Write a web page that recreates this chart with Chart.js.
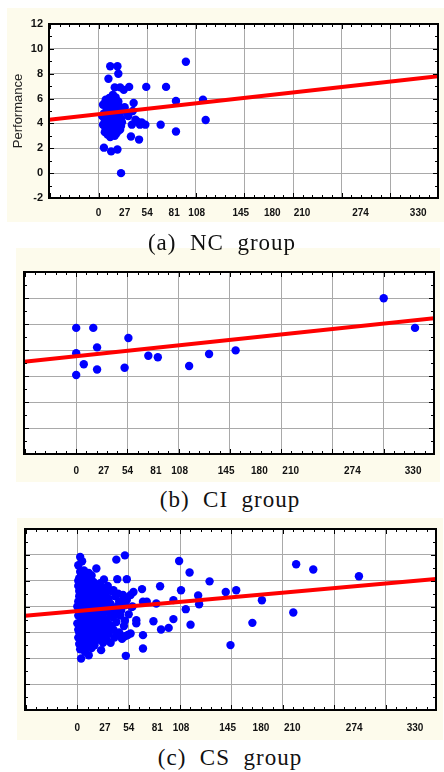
<!DOCTYPE html>
<html>
<head>
<meta charset="utf-8">
<script src="https://cdn.jsdelivr.net/npm/chart.js@4.4.1/dist/chart.umd.min.js"></script>
<style>
body { margin: 0; width: 444px; height: 772px; background: #fff; position: relative; overflow: hidden; }
.box { position: absolute; background: #fdfbec; }
.cap { position: absolute; left: 0; width: 444px; text-align: center; white-space: pre; z-index: 2; line-height: 22px;
       font-family: 'Liberation Serif', 'Times New Roman', serif; font-size: 23px; color: #111; letter-spacing: 1px; }
.mark { position: absolute; left: 262px; top: 0; font: bold 12px 'Liberation Sans', Arial, sans-serif; }
</style>
</head>
<body>
<div class="mark">_</div>
<div class="box" style="left:7px;top:8px;width:437px;height:214px"><canvas id="chartNC" width="437" height="214"></canvas></div>
<div class="cap" style="top:232px">(a)  NC  group</div>
<div class="box" style="left:16px;top:248px;width:424px;height:234px"><canvas id="chartCI" width="424" height="234"></canvas></div>
<div class="cap" style="top:489px;left:8px">(b)  CI  group</div>
<div class="box" style="left:17px;top:518px;width:426px;height:222px"><canvas id="chartCS" width="426" height="222"></canvas></div>
<div class="cap" style="top:747px;left:8px">(c)  CS  group</div>

<script>
// x axis: gridlines every 54, labels placed where the figure puts them
var xGrid = [0, 54, 108, 162, 216, 270, 324];
var xLabelPos = [0, 29, 54, 84, 109, 158, 193, 226, 291, 355];
var xLabelText = ['0', '27', '54', '81', '108', '145', '180', '210', '274', '330'];
var yTicks = [-2, 0, 2, 4, 6, 8, 10, 12];

// NC group
var ncPoints = [
    [97, 8.96], [53, 6.94], [75, 6.94], [86, 5.8], [116, 5.9], [119, 4.27], [86, 3.35], [69, 3.9],
    [52, 3.9], [45, 2.7], [36, 2.95], [25, 0.0], [21, 1.9], [14, 1.75], [6, 2.05], [13, 8.6],
    [21, 8.6], [22, 8.0], [11, 7.6], [34, 6.94], [28, 6.7], [39, 5.64], [38, 5.0], [43, 4.15],
    [48, 4.07], [37, 3.9], [18, 6.9], [24, 6.9], [16, 6.3], [12, 6.05], [7, 5.64], [22, 5.77],
    [33, 4.6], [41, 4.3], [46, 3.9], [31, 4.9], [29, 5.3],
    [5, 5.5], [6, 4.8], [8, 5.9], [9, 4.3], [10, 5.2], [11, 3.8], [12, 4.6], [13, 5.6],
    [14, 3.4], [15, 4.2], [16, 5.0], [17, 3.6], [18, 4.7], [19, 5.4], [20, 3.2], [21, 4.0],
    [22, 4.9], [24, 3.5], [25, 4.4], [26, 5.1], [8, 3.6], [10, 3.1], [12, 5.9], [15, 6.0],
    [18, 3.0], [13, 4.0], [19, 4.4], [23, 3.9], [7, 4.2], [16, 3.3], [21, 5.6], [24, 5.3],
    [11, 4.9], [17, 5.8], [9, 3.4], [22, 3.4], [14, 4.8], [20, 5.0], [26, 4.1], [6, 3.9],
    [4, 4.6], [5, 3.9], [7, 3.3], [10, 5.7], [14, 5.3], [17, 4.4], [20, 4.5], [23, 4.6],
    [25, 3.8], [19, 3.6], [11, 3.2], [13, 2.9], [16, 5.6], [19, 6.1], [9, 5.0]
];
var ncFit = [4.3, 7.8];

// CI group
var ciPoints = [
    [0, 7.7], [18, 7.7], [22, 6.2], [0, 5.75], [8, 4.9], [0, 4.08], [22, 4.5], [55, 6.92],
    [51, 4.64], [76, 5.56], [86, 5.44], [119, 4.77], [140, 5.69], [168, 5.97], [324, 9.98], [357, 7.7]
];
var ciFit = [5.1, 8.44];

// CS group
var csPoints = [
    [50, 9.96], [41, 9.63], [107, 9.52], [118, 8.63], [139, 7.95], [87, 7.57], [109, 7.26], [156, 7.13],
    [167, 7.26], [230, 9.27], [248, 8.87], [296, 8.35], [194, 6.49], [227, 5.54], [184, 4.74], [161, 3.02],
    [128, 6.18], [127, 6.86], [114, 5.8], [119, 4.6], [101, 5.03], [101, 6.5], [96, 4.35], [88, 4.23],
    [80, 4.87], [83, 6.24], [73, 6.37], [68, 7.35], [69, 6.37], [69, 3.79], [69, 2.76], [62, 4.95],
    [62, 4.7], [56, 3.92], [51, 2.19], [50, 3.71], [50, 4.9], [57, 5.97], [59, 7.13], [52, 8.12],
    [42, 8.12], [38, 7.26], [42, 3.87], [27, 3.2], [25, 2.63], [12, 2.24], [4, 1.98], [5, 9.5],
    [3, 9.84], [20, 8.94],
    [1, 9.2], [3, 8.7], [2, 8.2], [5, 8.0], [1, 7.6], [4, 7.4], [7, 7.8], [9, 8.3], [12, 8.6],
    [15, 8.4], [6, 7.0], [10, 7.2], [13, 7.5], [17, 7.9], [20, 7.6], [23, 7.3], [2, 6.8], [5, 6.5],
    [8, 6.6], [11, 6.4], [14, 6.9], [18, 6.6], [21, 7.0], [25, 6.7], [27, 6.3], [0, 6.0], [3, 5.9],
    [6, 5.6], [9, 5.8], [12, 6.0], [15, 5.7], [19, 6.1], [22, 5.8], [26, 5.9], [1, 5.3], [4, 5.1],
    [7, 5.4], [10, 5.0], [13, 5.3], [16, 5.1], [19, 5.4], [23, 5.2], [27, 5.5], [0, 4.7], [3, 4.5],
    [6, 4.8], [9, 4.4], [12, 4.6], [15, 4.3], [18, 4.7], [21, 4.5], [24, 4.8], [2, 4.0], [5, 3.8],
    [8, 4.1], [11, 3.7], [14, 3.9], [17, 3.6], [20, 4.0], [25, 4.2], [4, 3.3], [7, 3.1], [10, 3.4],
    [13, 3.0], [16, 3.2], [22, 3.5], [3, 2.7], [8, 2.5], [15, 2.8], [1, 3.6],
    [30, 7.0], [33, 6.6], [36, 7.2], [40, 6.8], [44, 6.4], [48, 6.9], [52, 6.5], [56, 6.9],
    [29, 6.0], [32, 5.6], [35, 6.2], [38, 5.8], [42, 6.0], [46, 5.7], [50, 6.1], [54, 5.4],
    [31, 5.0], [34, 4.6], [37, 5.2], [41, 4.8], [45, 5.3], [49, 4.5], [30, 4.2], [33, 3.9],
    [36, 4.4], [39, 3.6], [44, 4.0], [47, 3.5], [53, 3.8], [31, 3.4], [35, 3.2], [58, 6.0],
    [28, 8.1], [32, 7.6],
    [1, 8.0], [4, 8.4], [7, 8.8], [10, 7.7], [13, 8.1], [16, 7.3], [19, 7.1], [24, 7.8],
    [2, 7.2], [8, 7.3], [11, 6.9], [16, 6.2], [20, 6.5], [24, 6.1], [1, 6.4], [4, 6.2],
    [7, 6.1], [10, 5.5], [14, 5.9], [17, 5.5], [21, 5.2], [25, 5.0], [2, 5.6], [5, 4.9],
    [8, 4.9], [11, 5.2], [14, 4.7], [17, 4.9], [20, 4.1], [23, 4.4], [27, 4.6], [1, 4.2],
    [4, 4.0], [7, 3.6], [10, 3.9], [13, 3.6], [16, 4.0], [19, 3.3], [24, 3.7], [2, 3.1],
    [6, 2.9], [11, 2.9], [18, 3.0], [26, 6.9], [28, 5.0], [29, 7.4], [34, 5.5], [40, 5.4],
    [43, 7.0], [47, 6.3], [33, 4.3], [38, 4.2], [28, 3.8]
];
var csFit = [5.29, 8.14];

var X_MIN = -55, X_MAX = 377;

var allXTicks = xGrid.concat(xLabelPos).filter(function (v, i, arr) {
    return arr.indexOf(v) === i;
}).sort(function (a, b) { return a - b; });

// white plot area, black frame and inward tick marks like the original
var framePlugin = {
    id: 'frame',
    beforeDatasetsDraw: function (chart) {
        var a = chart.chartArea, ctx = chart.ctx;
        ctx.save();
        ctx.globalCompositeOperation = 'destination-over';
        ctx.fillStyle = '#fff';
        ctx.fillRect(a.left, a.top, a.right - a.left, a.bottom - a.top);
        ctx.restore();
    },
    afterDraw: function (chart) {
        var a = chart.chartArea, ctx = chart.ctx;
        var x = chart.scales.x, y = chart.scales.y;
        ctx.save();
        ctx.strokeStyle = '#000';
        ctx.lineWidth = 1;
        ctx.beginPath();
        for (var k = Math.ceil(x.min / 10.8); k * 10.8 <= x.max; k++) {
            var px = Math.round(x.getPixelForValue(k * 10.8)) + 0.5;
            var len = (k % 5 === 0) ? 5 : 3;
            ctx.moveTo(px, a.top); ctx.lineTo(px, a.top + len);
            ctx.moveTo(px, a.bottom); ctx.lineTo(px, a.bottom - len);
        }
        for (var v = y.min; v <= y.max; v++) {
            var py = Math.round(y.getPixelForValue(v)) + 0.5;
            var l2 = (v % 2 === 0) ? 5 : 3;
            ctx.moveTo(a.left, py); ctx.lineTo(a.left + l2, py);
            ctx.moveTo(a.right, py); ctx.lineTo(a.right - l2, py);
        }
        ctx.stroke();
        ctx.lineWidth = 2;
        ctx.strokeRect(a.left, a.top, a.right - a.left, a.bottom - a.top);
        ctx.restore();
    }
};

function toXY(list) {
    return list.map(function (p) { return { x: p[0], y: p[1] }; });
}

function BuildChart(canvasId, points, fit, layout) {
    var context = document.getElementById(canvasId);
    return new Chart(context, {
        type: 'scatter',
        data: {
            datasets: [{
                type: 'line',
                data: [{ x: X_MIN, y: fit[0] }, { x: X_MAX, y: fit[1] }],
                borderColor: '#ff0000',
                borderWidth: 4,
                pointRadius: 0,
                showLine: true,
                order: 0
            }, {
                data: toXY(points),
                backgroundColor: '#0000ff',
                borderWidth: 0,
                pointRadius: 4.2,
                order: 1
            }]
        },
        options: {
            responsive: false,
            animation: false,
            events: [],
            layout: { padding: { top: layout.top, right: layout.right, left: 0, bottom: 0 } },
            plugins: { legend: { display: false }, tooltip: { enabled: false } },
            scales: {
                x: {
                    type: 'linear',
                    min: X_MIN,
                    max: X_MAX,
                    afterBuildTicks: function (scale) {
                        scale.ticks = allXTicks.map(function (v) { return { value: v }; });
                    },
                    afterFit: function (scale) { scale.height = layout.xHeight; },
                    border: { display: false },
                    grid: {
                        drawTicks: false,
                        color: function (c) {
                            return c.tick && xGrid.indexOf(c.tick.value) >= 0 ? '#a9a9a9' : 'rgba(0,0,0,0)';
                        },
                        lineWidth: 1
                    },
                    ticks: {
                        autoSkip: false,
                        maxRotation: 0,
                        padding: layout.xPad,
                        color: '#111',
                        font: { family: "'Liberation Sans', Arial, sans-serif", size: 10, weight: 'bold' },
                        callback: function (value) {
                            var i = xLabelPos.indexOf(value);
                            return i >= 0 ? xLabelText[i] : '';
                        }
                    }
                },
                y: {
                    min: -2,
                    max: 12,
                    afterBuildTicks: function (scale) {
                        scale.ticks = yTicks.map(function (v) { return { value: v }; });
                    },
                    afterFit: function (scale) { scale.width = layout.yWidth; },
                    border: { display: false },
                    grid: { drawTicks: false, color: '#a9a9a9', lineWidth: 1 },
                    ticks: {
                        display: layout.showY,
                        padding: 6,
                        color: '#111',
                        font: { family: "'Liberation Sans', Arial, sans-serif", size: 11, weight: 'bold' }
                    },
                    title: {
                        display: layout.showY,
                        text: 'Performance',
                        color: '#222',
                        padding: { top: 4, bottom: 0 },
                        font: { family: "'Liberation Sans', Arial, sans-serif", size: 13 }
                    }
                }
            }
        },
        plugins: [framePlugin]
    });
}

// dotted grid lines
Chart.defaults.scale.grid.borderDash = [1, 2];

BuildChart('chartNC', ncPoints, ncFit, { top: 16, right: 6, xHeight: 24, xPad: 9, yWidth: 42, showY: true });
BuildChart('chartCI', ciPoints, ciFit, { top: 24, right: 6, xHeight: 28, xPad: 11, yWidth: 8, showY: false });
BuildChart('chartCS', csPoints, csFit, { top: 11, right: 7, xHeight: 30, xPad: 12, yWidth: 8, showY: false });
</script>
</body>
</html>
